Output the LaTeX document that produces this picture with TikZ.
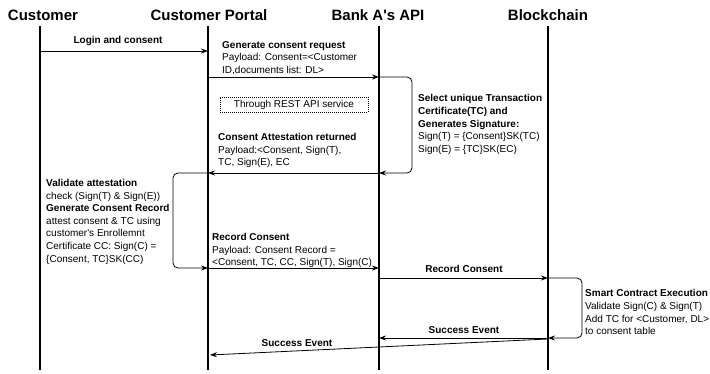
\documentclass[tikz,border=0pt]{standalone}
\usepackage{fontspec}
\setmainfont{Liberation Sans}
\usetikzlibrary{arrows.meta,calc,positioning}

\tikzset{
  lifeline/.style={line width=1.4pt},
  msgline/.style={line width=0.8pt,-{Stealth[length=7pt,width=5pt]}},
  loopline/.style={msgline,rounded corners=5pt},
  header/.style={font=\fontsize{15}{17}\selectfont\bfseries},
  note/.style={font=\fontsize{10}{12.6}\selectfont,align=left,anchor=north west,inner sep=0pt},
  msglabel/.style={font=\fontsize{10}{12.6}\selectfont\bfseries,inner sep=0pt}
}

\begin{document}
\begin{tikzpicture}[x=1pt,y=-1pt]
  \useasboundingbox (0,0) rectangle (710,374);
  % headers and lifelines
  \node[header] (custhead) at (43,15) {Customer};
  \node[header] (portalhead) at (209,15) {Customer Portal};
  \node[header] (bankhead) at (378,15) {Bank A\textquotesingle s API};
  \node[header] (chainhead) at (548,15) {Blockchain};
  \foreach \n/\x in {cust/40,portal/208,bank/379,chain/548}{
    \coordinate (\n top) at (\x,26);
    \coordinate (\n bot) at (\x,370);
    \draw[lifeline] (\n top) -- (\n bot);
  }
  % message points on the lifelines
  \coordinate (cust1) at (40,51);
  \coordinate (portal1) at (208,51);
  \coordinate (portal2) at (208,77);
  \coordinate (bank2) at (379,77);
  \coordinate (bank3) at (379,173);
  \coordinate (portal3) at (208,173);
  \coordinate (portal4) at (208,268);
  \coordinate (bank4) at (379,268);
  \coordinate (bank5) at (379,278);
  \coordinate (chain5) at (548,278);
  \coordinate (chain6) at (548,338);
  \coordinate (bank6) at (379,338);
  \coordinate (chain7) at (548,339);
  \coordinate (portal7) at (210,355);
  % Customer -> Portal
  \draw[msgline] (cust1) -- (portal1);
  \node[msglabel] (login) at (118,41) {Login and consent};
  % Portal -> Bank API
  \node[note] (genreq) at (222,41) {\textbf{Generate consent request}\\Payload: Consent=<Customer\\ID,documents list: DL>};
  \draw[msgline] (portal2) -- (bank2);
  \node[draw,densely dotted,line width=1pt,font=\fontsize{10}{12.6}\selectfont,
    minimum width=148pt,minimum height=15pt,inner sep=0pt] (rest) at (294,105) {Through REST API service};
  % signature loop on Bank API
  \draw[loopline] (bank2) -- (412,77) -- (412,173) -- (bank3);
  \node[note] (select) at (418,94.5) {\textbf{Select unique Transaction}\\\textbf{Certificate(TC) and}\\\textbf{Generates Signature:}\\Sign(T) = \{Consent\}SK(TC)\\Sign(E) = \{TC\}SK(EC)};
  % attestation back to Portal
  \node[note] (attest) at (218,133) {\textbf{Consent Attestation returned}\\Payload:<Consent, Sign(T),\\TC, Sign(E), EC};
  \draw[msgline] (bank3) -- (portal3);
  % validation loop on Portal
  \draw[loopline] (portal3) -- (173,173) -- (173,268) -- (portal4);
  \node[note] (validate) at (46,179) {\textbf{Validate attestation}\\check (Sign(T) \& Sign(E))\\\textbf{Generate Consent Record}\\attest consent \& TC using\\customer\textquotesingle s Enrollemnt\\Certificate CC: Sign(C) =\\\{Consent, TC\}SK(CC)};
  % record consent
  \node[note] (record) at (212,233) {\textbf{Record Consent}\\Payload: Consent Record =\\<Consent, TC, CC, Sign(T), Sign(C)};
  \draw[msgline] (portal4) -- (bank4);
  \draw[msgline] (bank5) -- (chain5);
  \node[msglabel] (record2) at (464,269) {Record Consent};
  % smart contract loop
  \draw[loopline] (chain5) -- (582,278) -- (582,338) -- (chain6);
  \node[note] (smart) at (585,289.5) {\textbf{Smart Contract Execution}\\Validate Sign(C) \& Sign(T)\\Add TC for <Customer, DL>\\to consent table};
  % success events
  \draw[msgline] (chain6) -- (bank6);
  \node[msglabel] (success1) at (464,330) {Success Event};
  \draw[msgline] (chain7) -- (portal7);
  \node[msglabel] (success2) at (297,343) {Success Event};
\end{tikzpicture}
\end{document}
